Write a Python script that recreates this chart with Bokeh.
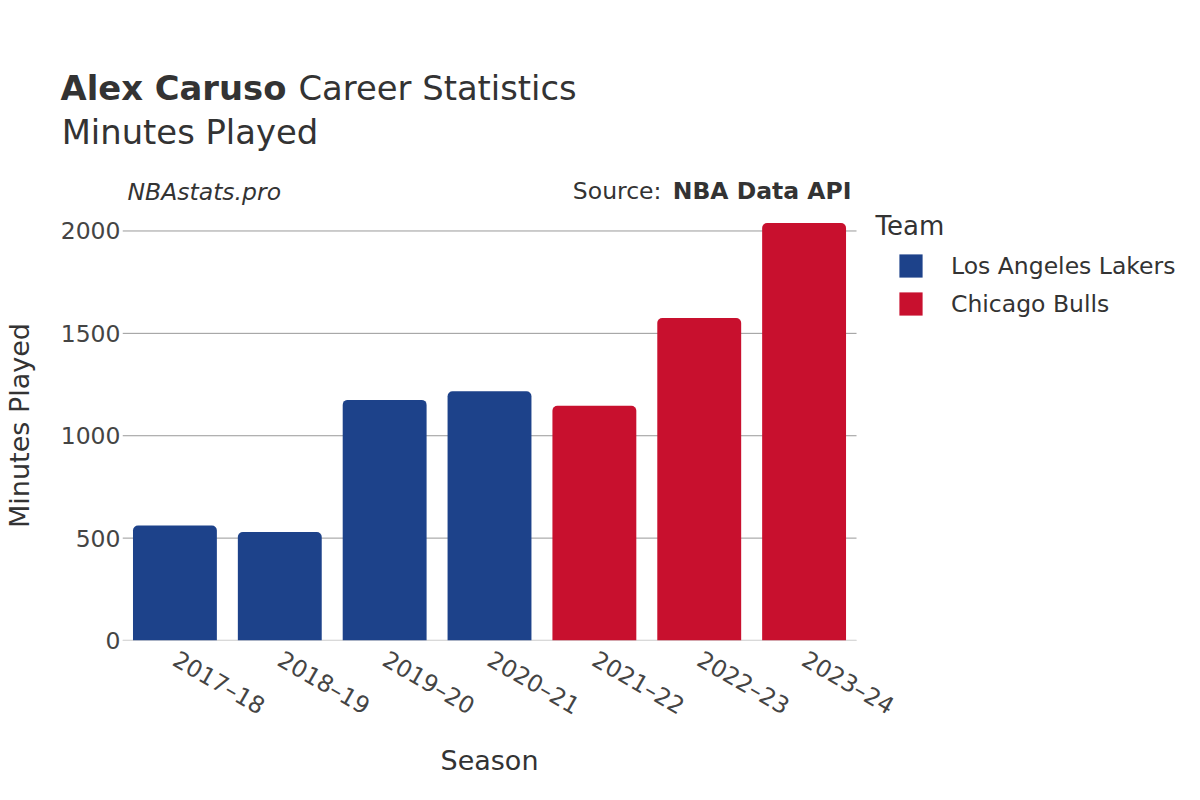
import math
from bokeh.plotting import figure
from bokeh.models import (ColumnDataSource, Range1d, FixedTicker,
                          Label, Legend, LegendItem)
from bokeh.embed import file_html
from bokeh.resources import INLINE

# ---- data ----
seasons = ["2017–18", "2018–19", "2019–20", "2020–21", "2021–22", "2022–23", "2023–24"]
minutes = [562, 530, 1175, 1217, 1146, 1575, 2039]
teams = ["Los Angeles Lakers", "Los Angeles Lakers", "Los Angeles Lakers",
         "Los Angeles Lakers", "Chicago Bulls", "Chicago Bulls", "Chicago Bulls"]
team_names = ["Los Angeles Lakers", "Chicago Bulls"]
team_colors = ["#1D428A", "#C8102E"]
y_ticks = [0, 500, 1000, 1500, 2000]

FONT = "DejaVu Sans"
TXT = "#333333"

# the frame runs to the right edge so that the legend can sit inside it;
# one season slot is 104.86 px wide
n = len(seasons)
x_end = -0.5 + 1078 / 104.86

p = figure(width=1200, height=800,
           x_range=Range1d(-0.5, x_end),
           y_range=Range1d(0, 2100),
           output_backend="svg", toolbar_location=None,
           min_border_left=122, min_border_right=0,
           min_border_top=210, min_border_bottom=160)
p.outline_line_color = None
p.background_fill_color = "white"
p.border_fill_color = "white"
p.xgrid.grid_line_color = None
p.ygrid.grid_line_color = None

# horizontal grid lines across the season slots only
p.segment(x0=[-0.5] * len(y_ticks), x1=[n - 0.5] * len(y_ticks),
          y0=y_ticks, y1=y_ticks, line_color="#999999", line_width=1)
# zero line
p.segment(x0=[-0.5], x1=[n - 0.5], y0=[0], y1=[0], line_color="#E6E6E6", line_width=2)

items = []
for name, col in zip(team_names, team_colors):
    idx = [i for i, t in enumerate(teams) if t == name]
    src = ColumnDataSource(dict(x=idx, minutes=[minutes[i] for i in idx]))
    r = p.vbar(x="x", top="minutes", width=0.8, source=src,
               fill_color=col, line_color=None, border_radius=(5, 5, 0, 0))
    items.append(LegendItem(label=name, renderers=[r]))

p.yaxis.ticker = FixedTicker(ticks=y_ticks)
p.yaxis.axis_line_color = None
p.yaxis.major_tick_line_color = None
p.yaxis.major_tick_out = 0
p.yaxis.major_tick_in = 0
p.yaxis.minor_tick_line_color = None
p.yaxis.major_label_standoff = 2
p.yaxis.major_label_text_font = FONT
p.yaxis.major_label_text_font_size = "23.5px"
p.yaxis.major_label_text_color = "#444444"
p.yaxis.axis_label = "Minutes Played"
p.yaxis.axis_label_text_font = FONT
p.yaxis.axis_label_text_font_size = "27px"
p.yaxis.axis_label_text_font_style = "normal"
p.yaxis.axis_label_text_color = TXT
p.yaxis.axis_label_standoff = 23

p.xaxis.ticker = FixedTicker(ticks=list(range(n)))
p.xaxis.major_label_overrides = {i: s for i, s in enumerate(seasons)}
p.xaxis.axis_line_color = None
p.xaxis.major_tick_line_color = None
p.xaxis.major_tick_out = 0
p.xaxis.major_tick_in = 0
p.xaxis.minor_tick_line_color = None
p.xaxis.major_label_orientation = -math.pi / 6
p.xaxis.major_label_standoff = 17
p.xaxis.major_label_text_font = FONT
p.xaxis.major_label_text_font_size = "23.5px"
p.xaxis.major_label_text_color = "#444444"

# legend inside the (extended) frame
legend = Legend(items=items, location=(774, 322), orientation="vertical",
                padding=0, margin=0, spacing=9,
                glyph_width=29, glyph_height=29, label_height=29,
                label_standoff=26,
                label_text_font=FONT, label_text_font_size="23.5px",
                label_text_color=TXT,
                border_line_alpha=0, background_fill_alpha=0)
p.add_layout(legend, "center")

def lab(side, text, x, y, size, style="normal", align="left"):
    p.add_layout(Label(x=x, y=y, x_units="screen", y_units="screen", text=text,
                       text_font=FONT, text_font_size=size, text_font_style=style,
                       text_align=align, text_baseline="alphabetic",
                       text_color=TXT), side)

# header labels, stacked in the top panel (nearest the frame first)
lab("above", "NBAstats.pro", 5, 18.8, "23.5px", "italic")
lab("above", "Source:", 539, -8.6, "23.5px", align="right")
lab("above", "NBA Data API", 729, -36, "23.5px", "bold", align="right")
lab("above", "Minutes Played", -60.8, -5.7, "33.8px")
lab("above", "Career Statistics", 176, -1.0, "33.8px")
lab("above", "Alex Caruso", -62, -40.3, "33.8px", "bold")

# bottom panel labels
lab("below", "Season", 367, 6.1, "27px", align="center")
lab("below", "Team", 753, 570.4, "26px")

open("out.html", "w").write(file_html(p, INLINE))
